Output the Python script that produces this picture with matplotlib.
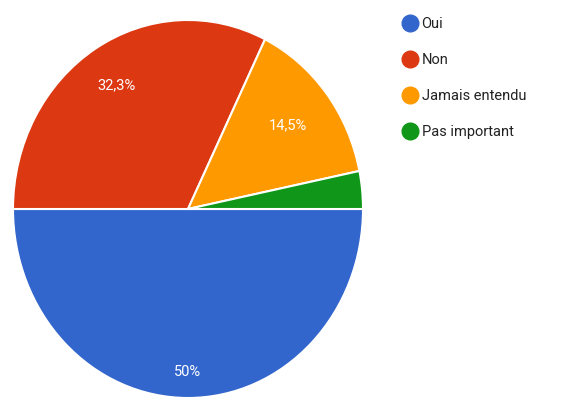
import numpy as np
import matplotlib.pyplot as plt
from matplotlib.lines import Line2D

labels = ['Oui', 'Non', 'Jamais entendu', 'Pas important']
counts = [31, 20, 9, 2]
colors = ['#3366cc', '#dc3912', '#ff9900', '#109618']

plt.rcParams['font.family'] = ['Roboto', 'DejaVu Sans']


def fmt_pct(pct):
    # small slices get no label
    if pct < 5:
        return ''
    s = f'{pct:.1f}'.rstrip('0').rstrip('.')
    return s.replace('.', ',') + '%'


fig = plt.figure(figsize=(5.7, 4.01), dpi=100)
ax = fig.add_axes([13 / 570, 3 / 401, 350 / 570, 378 / 401])

wedges, _, pct_texts = ax.pie(
    counts, colors=colors, startangle=0, counterclock=False,
    autopct=fmt_pct, pctdistance=0.78,
    wedgeprops=dict(edgecolor='white', linewidth=1.5),
    textprops=dict(color='white', fontsize=10.5),
)
ax.set_aspect('auto')
ax.set_xlim(-1, 1)
ax.set_ylim(-1, 1)

# push the label of each slice in or out a bit
radii = [0.86, 0.77, 0.72, 0.7]
for w, t, r in zip(wedges, pct_texts, radii):
    mid = np.deg2rad((w.theta1 + w.theta2) / 2)
    t.set_position((r * np.cos(mid), r * np.sin(mid)))

handles = [Line2D([], [], marker='o', linestyle='', markersize=12,
                  markerfacecolor=c, markeredgecolor=c) for c in colors]
fig.legend(handles, labels, loc='upper left', bbox_to_anchor=(388 / 570, 1 - 4 / 401),
           frameon=False, fontsize=10.5, labelcolor='#222222',
           handletextpad=0.2, labelspacing=1.5, handlelength=1.2)

fig.savefig('out.png', dpi=100)
